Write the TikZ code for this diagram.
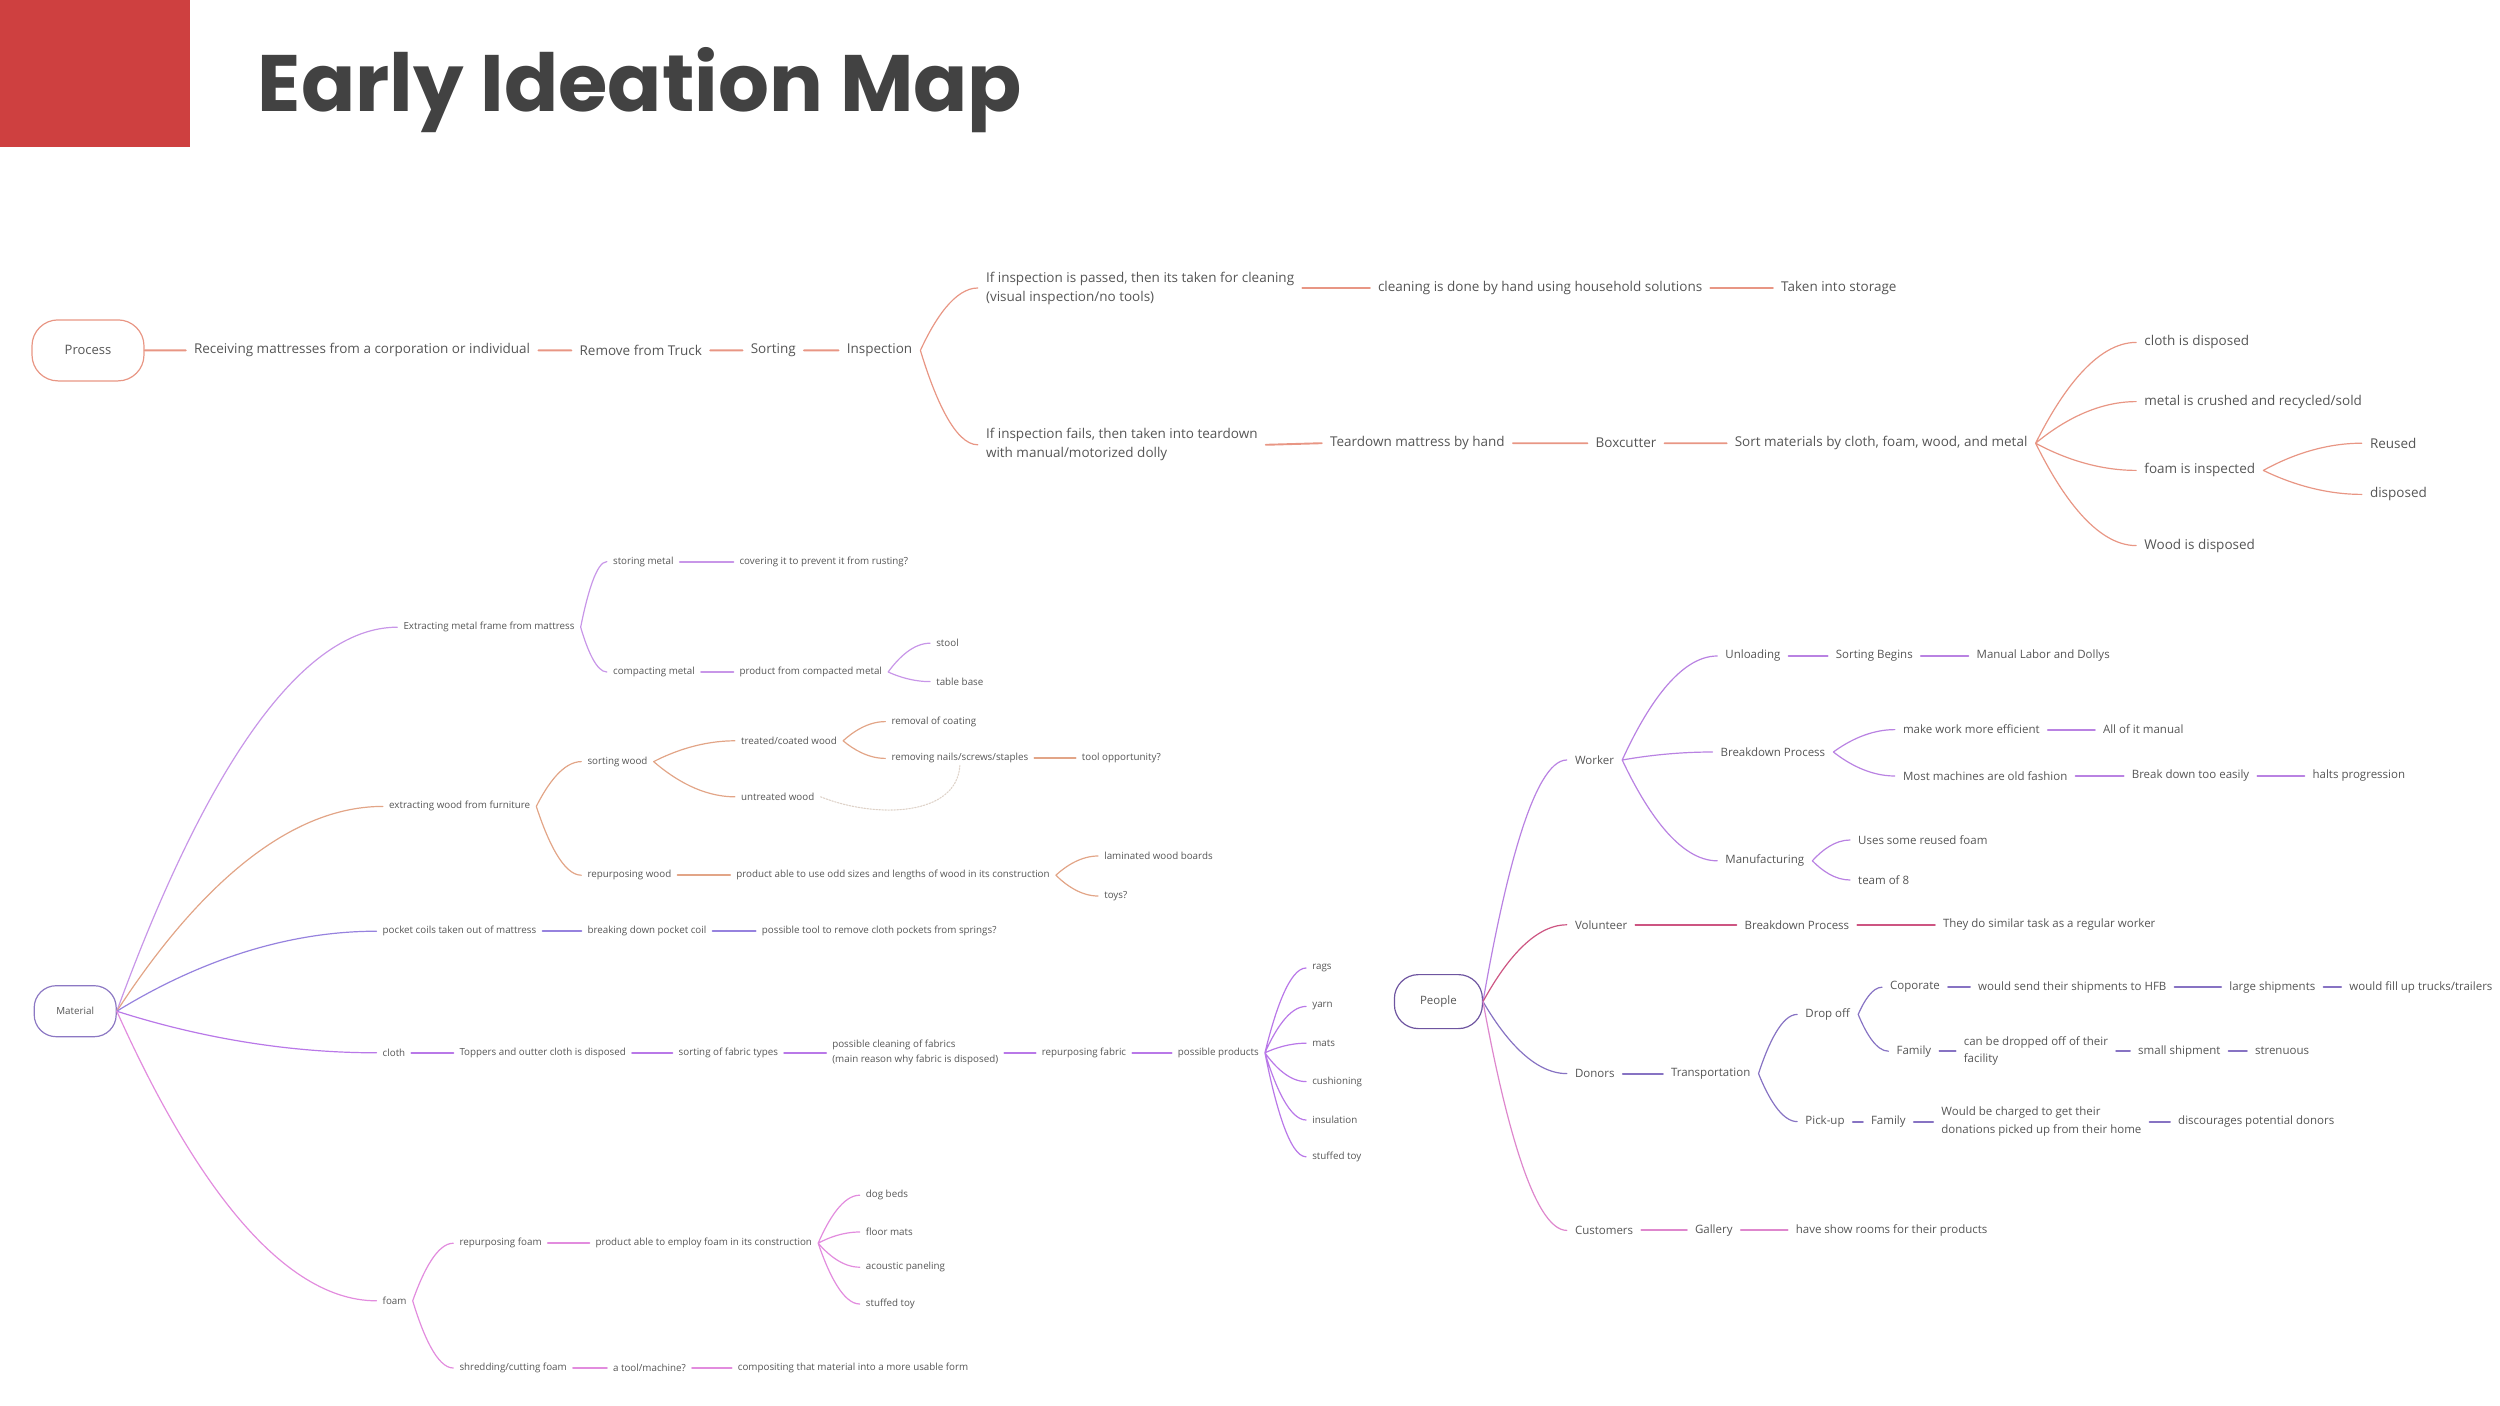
\documentclass[tikz,border=0pt]{standalone}
\usepackage{fontspec}
\setmainfont{Open Sans}
\newfontfamily\titlefont{Poppins}
\usetikzlibrary{calc}
\definecolor{txtgray}{RGB}{85,85,85}
\definecolor{titlegray}{RGB}{66,66,66}
\definecolor{redbox}{RGB}{206,64,64}
\definecolor{proc}{RGB}{232,150,132}
\definecolor{matb}{RGB}{140,120,195}
\definecolor{metal}{RGB}{200,150,232}
\definecolor{wood}{RGB}{226,165,135}
\definecolor{pocket}{RGB}{150,130,222}
\definecolor{cloth}{RGB}{185,120,232}
\definecolor{foam}{RGB}{226,140,222}
\definecolor{pplb}{RGB}{110,85,160}
\definecolor{worker}{RGB}{185,130,226}
\definecolor{volunt}{RGB}{205,85,130}
\definecolor{donor}{RGB}{135,115,195}
\definecolor{cust}{RGB}{222,135,205}
\definecolor{linkgray}{RGB}{222,210,200}
\tikzset{
	lbl/.style={anchor=west,inner ysep=2pt,text=txtgray,align=left},
	ftop/.style={lbl,xshift=-11pt,inner xsep=8pt,font=\fontsize{13.5}{19}\selectfont},
	fmat/.style={lbl,xshift=-7.5pt,inner xsep=6pt,font=\fontsize{9.8}{15}\selectfont},
	fppl/.style={lbl,xshift=-14pt,inner xsep=8pt,font=\fontsize{11.5}{17.5}\selectfont},
	hub/.style={draw,line width=1.2pt,text=txtgray,inner sep=0pt},
	ln/.style={line width=1.9pt},
	br/.style={line width=1.2pt,to path={let \p1=(\tikztostart),\p2=(\tikztotarget) in .. controls ({\x1+0.25*(\x2-\x1)},{\y1+0.5*(\y2-\y1)}) and ({\x1+0.6*(\x2-\x1)},\y2) .. (\tikztotarget)}}
}
\begin{document}
\begin{tikzpicture}[x=1.6pt,y=-1.6pt,line cap=round,line join=round]
	\useasboundingbox (0,0) rectangle (1562.5,878.75);
	\fill[redbox] (0,0) rectangle (118.5,92);
	\node[anchor=base west,inner sep=0pt,text=titlegray,font=\titlefont\bfseries\fontsize{80}{86}\selectfont] (title) at (161,70) {Early Ideation Map};
	% process
	\node[hub,draw=proc,minimum width=112pt,minimum height=61pt,rounded corners=26pt,font=\fontsize{13}{15}\selectfont] (process) at (55,219) {Process};
	\node[ftop] (recv) at (123,219) {Receiving mattresses from a corporation or individual};
	\node[ftop] (truck) at (364,219) {Remove from Truck};
	\node[ftop] (sorting) at (471,219) {Sorting};
	\node[ftop] (insp) at (531,219) {Inspection};
	\node[ftop] (pass) at (618,180) {If inspection is passed, then its taken for cleaning\\(visual inspection/no tools)};
	\node[ftop] (clean) at (863,180) {cleaning is done by hand using household solutions};
	\node[ftop] (storage) at (1115,180) {Taken into storage};
	\node[ftop] (fail) at (618,278) {If inspection fails, then taken into teardown\\with manual/motorized dolly};
	\node[ftop] (teardown) at (833,277) {Teardown mattress by hand};
	\node[ftop] (boxcut) at (999,277) {Boxcutter};
	\node[ftop] (sortmat) at (1086,277) {Sort materials by cloth, foam, wood, and metal};
	\node[ftop] (clothd) at (1342,214) {cloth is disposed};
	\node[ftop] (metalc) at (1342,251) {metal is crushed and recycled/sold};
	\node[ftop] (foami) at (1342,294) {foam is inspected};
	\node[ftop] (woodd) at (1342,341) {Wood is disposed};
	\node[ftop] (reused) at (1483,277) {Reused};
	\node[ftop] (disp) at (1483,309) {disposed};
	\draw[ln,proc] (process.east) -- (recv.west) (recv.east) -- (truck.west) (truck.east) -- (sorting.west) (sorting.east) -- (insp.west)
		(pass.east) -- (clean.west) (clean.east) -- (storage.west) (fail.east) -- (teardown.west) (teardown.east) -- (boxcut.west) (boxcut.east) -- (sortmat.west);
	\draw[br,proc] (insp.east) to (pass.west) (insp.east) to (fail.west)
		(sortmat.east) to (clothd.west) (sortmat.east) to (metalc.west) (sortmat.east) to (foami.west) (sortmat.east) to (woodd.west)
		(foami.east) to (reused.west) (foami.east) to (disp.west);
	% material
	\node[hub,draw=matb,minimum width=82pt,minimum height=51pt,rounded corners=22pt,font=\fontsize{9.8}{12}\selectfont] (material) at (47,632) {Material};
	\node[fmat] (xmetal) at (253,392) {Extracting metal frame from mattress};
	\node[fmat] (store) at (384,351) {storing metal};
	\node[fmat] (cover) at (463,351) {covering it to prevent it from rusting?};
	\node[fmat] (compact) at (384,420) {compacting metal};
	\node[fmat] (prodmetal) at (463,420) {product from compacted metal};
	\node[fmat] (stool) at (586,402) {stool};
	\node[fmat] (tbase) at (586,426) {table base};
	\node[fmat] (xwood) at (244,504) {extracting wood from furniture};
	\node[fmat] (sortwood) at (368,476) {sorting wood};
	\node[fmat] (treated) at (464,463) {treated/coated wood};
	\node[fmat] (coating) at (558,451) {removal of coating};
	\node[fmat] (nails) at (558,474) {removing nails/screws/staples};
	\node[fmat] (toolopp) at (677,474) {tool opportunity?};
	\node[fmat] (untreated) at (464,498) {untreated wood};
	\node[fmat] (repwood) at (368,547) {repurposing wood};
	\node[fmat] (oddsizes) at (461,547) {product able to use odd sizes and lengths of wood in its construction};
	\node[fmat] (lamin) at (691,535) {laminated wood boards};
	\node[fmat] (toys) at (691,560) {toys?};
	\node[fmat] (pocket) at (240,582) {pocket coils taken out of mattress};
	\node[fmat] (breakcoil) at (368,582) {breaking down pocket coil};
	\node[fmat] (pockettool) at (477,582) {possible tool to remove cloth pockets from springs?};
	\node[fmat] (cloth) at (240,658) {cloth};
	\node[fmat] (toppers) at (288,658) {Toppers and outter cloth is disposed};
	\node[fmat] (fabtypes) at (425,658) {sorting of fabric types};
	\node[fmat] (fabclean) at (521,658) {possible cleaning of fabrics\\(main reason why fabric is disposed)};
	\node[fmat] (repfab) at (652,658) {repurposing fabric};
	\node[fmat] (products) at (737,658) {possible products};
	\node[fmat] (rags) at (821,605) {rags};
	\node[fmat] (yarn) at (821,629) {yarn};
	\node[fmat] (mats) at (821,652) {mats};
	\node[fmat] (cushion) at (821,676) {cushioning};
	\node[fmat] (insul) at (821,700) {insulation};
	\node[fmat] (stoyc) at (821,723) {stuffed toy};
	\node[fmat] (foamn) at (240,813) {foam};
	\node[fmat] (repfoam) at (288,777) {repurposing foam};
	\node[fmat] (employ) at (373,777) {product able to employ foam in its construction};
	\node[fmat] (dogbeds) at (542,747) {dog beds};
	\node[fmat] (floormats) at (542,770) {floor mats};
	\node[fmat] (acoustic) at (542,792) {acoustic paneling};
	\node[fmat] (stoyf) at (542,815) {stuffed toy};
	\node[fmat] (shred) at (288,855) {shredding/cutting foam};
	\node[fmat] (machine) at (384,855) {a tool/machine?};
	\node[fmat] (composit) at (462,855) {compositing that material into a more usable form};
	\draw[br,metal] (material.east) to (xmetal.west) (xmetal.east) to (store.west) (xmetal.east) to (compact.west) (prodmetal.east) to (stool.west) (prodmetal.east) to (tbase.west);
	\draw[ln,metal] (store.east) -- (cover.west) (compact.east) -- (prodmetal.west);
	\draw[br,wood] (material.east) to (xwood.west) (xwood.east) to (sortwood.west) (xwood.east) to (repwood.west) (sortwood.east) to (treated.west) (sortwood.east) to (untreated.west)
		(treated.east) to (coating.west) (treated.east) to (nails.west) (oddsizes.east) to (lamin.west) (oddsizes.east) to (toys.west);
	\draw[ln,wood] (nails.east) -- (toolopp.west) (repwood.east) -- (oddsizes.west);
	\draw[linkgray,line width=1.1pt,dash pattern=on 1.5pt off 1.5pt] (untreated.east) .. controls (548,512) and (598,510) .. (nails.south);
	\draw[br,pocket] (material.east) to (pocket.west);
	\draw[ln,pocket] (pocket.east) -- (breakcoil.west) (breakcoil.east) -- (pockettool.west);
	\draw[br,cloth] (material.east) to (cloth.west) (products.east) to (rags.west) (products.east) to (yarn.west) (products.east) to (mats.west)
		(products.east) to (cushion.west) (products.east) to (insul.west) (products.east) to (stoyc.west);
	\draw[ln,cloth] (cloth.east) -- (toppers.west) (toppers.east) -- (fabtypes.west) (fabtypes.east) -- (fabclean.west) (fabclean.east) -- (repfab.west) (repfab.east) -- (products.west);
	\draw[br,foam] (material.east) to (foamn.west) (foamn.east) to (repfoam.west) (foamn.east) to (shred.west)
		(employ.east) to (dogbeds.west) (employ.east) to (floormats.west) (employ.east) to (acoustic.west) (employ.east) to (stoyf.west);
	\draw[ln,foam] (repfoam.east) -- (employ.west) (shred.east) -- (machine.west) (machine.east) -- (composit.west);
	% people
	\node[hub,draw=pplb,minimum width=88pt,minimum height=54pt,rounded corners=24pt,font=\fontsize{11.5}{14}\selectfont] (people) at (899,626) {People};
	\node[fppl] (worker) at (988,475) {Worker};
	\node[fppl] (unload) at (1082,410) {Unloading};
	\node[fppl] (sortbeg) at (1151,410) {Sorting Begins};
	\node[fppl] (labor) at (1239,410) {Manual Labor and Dollys};
	\node[fppl] (wbreak) at (1079,470) {Breakdown Process};
	\node[fppl] (efficient) at (1193,456) {make work more efficient};
	\node[fppl] (allman) at (1318,456) {All of it manual};
	\node[fppl] (oldfash) at (1193,485) {Most machines are old fashion};
	\node[fppl] (breakeasy) at (1336,485) {Break down too easily};
	\node[fppl] (halts) at (1449,485) {halts progression};
	\node[fppl] (manuf) at (1082,538) {Manufacturing};
	\node[fppl] (reusedfoam) at (1165,525) {Uses some reused foam};
	\node[fppl] (team) at (1165,550) {team of 8};
	\node[fppl] (volunteer) at (988,578) {Volunteer};
	\node[fppl] (vbreak) at (1094,578) {Breakdown Process};
	\node[fppl] (similar) at (1218,578) {They do similar task as a regular worker};
	\node[fppl] (donors) at (988,671) {Donors};
	\node[fppl] (transp) at (1048,671) {Transportation};
	\node[fppl] (dropoff) at (1132,634) {Drop off};
	\node[fppl] (coporate) at (1185,617) {Coporate};
	\node[fppl] (sendhfb) at (1240,617) {would send their shipments to HFB};
	\node[fppl] (large) at (1397,617) {large shipments};
	\node[fppl] (fillup) at (1472,617) {would fill up trucks/trailers};
	\node[fppl] (famdrop) at (1189,657) {Family};
	\node[fppl] (dropped) at (1231,657) {can be dropped off of their\\facility};
	\node[fppl] (small) at (1340,657) {small shipment};
	\node[fppl] (strenuous) at (1413,657) {strenuous};
	\node[fppl] (pickup) at (1132,701) {Pick-up};
	\node[fppl] (fampick) at (1173,701) {Family};
	\node[fppl] (charged) at (1217,701) {Would be charged to get their\\donations picked up from their home};
	\node[fppl] (discour) at (1365,701) {discourages potential donors};
	\node[fppl] (customers) at (988,769) {Customers};
	\node[fppl] (gallery) at (1063,769) {Gallery};
	\node[fppl] (showrooms) at (1126,769) {have show rooms for their products};
	\draw[br,worker] (people.east) to (worker.west) (worker.east) to (unload.west) (worker.east) to (wbreak.west) (worker.east) to (manuf.west)
		(wbreak.east) to (efficient.west) (wbreak.east) to (oldfash.west) (manuf.east) to (reusedfoam.west) (manuf.east) to (team.west);
	\draw[ln,worker] (unload.east) -- (sortbeg.west) (sortbeg.east) -- (labor.west) (efficient.east) -- (allman.west) (oldfash.east) -- (breakeasy.west) (breakeasy.east) -- (halts.west);
	\draw[br,volunt] (people.east) to (volunteer.west);
	\draw[ln,volunt] (volunteer.east) -- (vbreak.west) (vbreak.east) -- (similar.west);
	\draw[br,donor] (people.east) to (donors.west) (transp.east) to (dropoff.west) (transp.east) to (pickup.west) (dropoff.east) to (coporate.west) (dropoff.east) to (famdrop.west);
	\draw[ln,donor] (donors.east) -- (transp.west) (coporate.east) -- (sendhfb.west) (sendhfb.east) -- (large.west) (large.east) -- (fillup.west)
		(famdrop.east) -- (dropped.west) (dropped.east) -- (small.west) (small.east) -- (strenuous.west)
		(pickup.east) -- (fampick.west) (fampick.east) -- (charged.west) (charged.east) -- (discour.west);
	\draw[br,cust] (people.east) to (customers.west);
	\draw[ln,cust] (customers.east) -- (gallery.west) (gallery.east) -- (showrooms.west);
\end{tikzpicture}
\end{document}
